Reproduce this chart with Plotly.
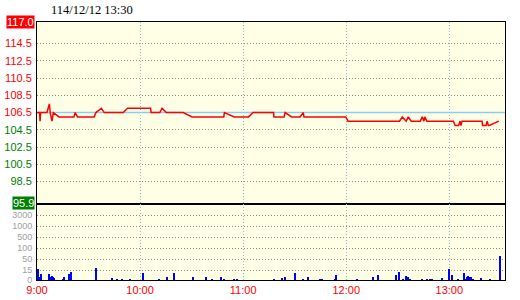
import numpy as np
import plotly.graph_objects as go
from plotly.subplots import make_subplots

# ---- data ----
title_text = "114/12/12 13:30"
prev_close = 106.5
limit_up = 117.0
limit_down = 95.9

# minutes after 09:00
price_minutes = [0, 1.5, 1.8, 2.1, 5.8, 6.3, 7.2, 7.7, 8.7, 9.5, 12.8, 21.5, 22.2, 23.6, 33.3,
                 34.3, 37.5, 39.1, 50.2, 52.7, 66.1, 66.4, 71.5, 72.8, 75.2, 85.1, 90.3, 108.7,
                 109.1, 114.8, 123.1, 125.8, 137.7, 137.9, 143.8, 144.4, 148.2, 153.1, 155.0,
                 155.4, 179.7, 181.0, 211.0, 212.6, 214.9, 216.1, 217.8, 223.1, 224.2, 225.2,
                 225.7, 226.9, 242.4, 243.4, 245.4, 246.2, 246.8, 247.4, 259.1, 259.3, 261.4,
                 262.0, 262.7, 263.2, 268.8]
prices = [106.5, 106.5, 105.5, 106.5, 106.5, 107.0, 107.5, 106.5, 105.5, 106.5, 106.0, 106.0,
          106.5, 106.0, 106.0, 106.5, 107.0, 106.5, 106.5, 107.0, 107.0, 106.5, 106.5, 107.0,
          106.5, 106.5, 106.0, 106.0, 106.5, 106.0, 106.0, 106.5, 106.5, 106.0, 106.0, 106.5,
          106.0, 106.0, 106.5, 106.0, 106.0, 105.5, 105.5, 106.0, 105.5, 106.0, 105.5, 105.5,
          106.0, 105.5, 106.0, 105.5, 105.5, 105.0, 105.0, 105.5, 105.0, 105.5, 105.5, 105.0,
          105.0, 105.5, 105.0, 105.0, 105.5]

vol_minutes = [0.4, 1.7, 2.5, 7.2, 7.6, 8.9, 9.5, 10.1, 15.3, 15.9, 18.8, 19.9, 34.5, 43.8, 46.7,
               49.7, 54.2, 61.8, 71.1, 75.8, 79.8, 90.9, 98.4, 101.9, 107.2, 108.9, 114.7, 116.5,
               138.0, 142.6, 144.4, 150.2, 154.8, 157.7, 164.7, 165.9, 173.4, 174.0, 186.2,
               195.5, 198.4, 208.9, 210.6, 212.9, 214.7, 215.9, 217.0, 224.0, 226.9, 228.7,
               229.8, 235.6, 239.7, 241.5, 244.9, 248.4, 249.6, 250.2, 250.8, 251.4, 252.5,
               253.7, 258.3, 263.5, 269.4]
volumes = [18, 4, 10, 10, 4, 6, 4, 3, 2, 4, 10, 12, 21, 3, 2, 2, 2, 11, 2, 4, 11, 5, 4, 2, 4, 2,
           2, 2, 2, 3, 5, 11, 2, 4, 2, 2, 2, 8, 2, 5, 8, 8, 12, 2, 6, 5, 2, 2, 2, 2, 2, 3, 20, 8,
           2, 11, 2, 4, 6, 5, 5, 2, 3, 2, 63]

price_ticks = [98.5, 100.5, 102.5, 104.5, 106.5, 108.5, 110.5, 112.5, 114.5]
vol_tick_values = [0, 15, 50, 100, 500, 1000, 3000]
vol_tick_pos = [0, 0.88, 1.88, 2.88, 3.88, 4.88, 5.88]
time_ticks = [0, 60, 120, 180, 240]
time_labels = ["9:00", "10:00", "11:00", "12:00", "13:00"]

# ---- figure ----
RED = "#ff0000"
GREEN = "#008000"
BG = "#ffffe6"
GRID = "#909090"
VGRID = "#88bbdd"
DOT = "1px,2px"

vol_disp = np.interp(volumes, vol_tick_values, vol_tick_pos)

fig = make_subplots(rows=2, cols=1, shared_xaxes=True, vertical_spacing=0,
                    row_heights=[0.7054, 0.2946])

fig.add_trace(go.Scatter(x=[0, 272.4], y=[prev_close, prev_close], mode="lines",
                         line=dict(color="#87cdf5", width=1.5), hoverinfo="skip"), row=1, col=1)
fig.add_trace(go.Scatter(x=price_minutes, y=prices, mode="lines",
                         line=dict(color=RED, width=1.5)), row=1, col=1)
fig.add_trace(go.Bar(x=vol_minutes, y=vol_disp, width=0.6,
                     marker=dict(color="#0000ff", line=dict(width=0))), row=2, col=1)

ticktext_price = [f'<span style="color:{RED if v >= prev_close else GREEN}">{v:.1f}</span>'
                  for v in price_ticks]

axis_common = dict(showline=True, linecolor="black", linewidth=1, mirror=True,
                   ticks="", zeroline=False, automargin=False)

fig.update_xaxes(range=[0, 272.4], tickvals=time_ticks, ticktext=time_labels,
                 showgrid=True, gridcolor=VGRID, griddash=DOT, gridwidth=1,
                 tickfont=dict(color=RED, size=11, family="Liberation Sans"),
                 **axis_common)
fig.update_xaxes(showticklabels=False, row=1, col=1)
fig.update_yaxes(range=[limit_down, limit_up], tickvals=price_ticks, ticktext=ticktext_price,
                 showgrid=True, gridcolor=GRID, griddash=DOT, gridwidth=1,
                 tickfont=dict(size=11, family="Liberation Sans"), ticklabelstandoff=2,
                 row=1, col=1, **axis_common)
fig.update_yaxes(range=[0, 6.91], tickvals=vol_tick_pos, ticktext=[str(v) for v in vol_tick_values],
                 showgrid=True, gridcolor=GRID, griddash=DOT, gridwidth=1,
                 tickfont=dict(size=9, color="#a0a0a0", family="Liberation Sans"),
                 ticklabelstandoff=2, row=2, col=1, **axis_common)

fig.add_annotation(xref="paper", yref="y", x=0, y=limit_up, text=f"{limit_up:.1f}",
                   xanchor="right", yanchor="middle", xshift=-2, showarrow=False,
                   bgcolor=RED, borderpad=0,
                   font=dict(color="white", size=11, family="Liberation Sans"))
fig.add_annotation(xref="paper", yref="y", x=0, y=limit_down, text=f"{limit_down:.1f}",
                   xanchor="right", yanchor="middle", xshift=-2, yshift=1, showarrow=False,
                   bgcolor=GREEN, borderpad=0,
                   font=dict(color="white", size=11, family="Liberation Sans"))
fig.add_annotation(xref="paper", yref="paper", x=0.0256, y=1, yanchor="bottom", xanchor="left",
                   yshift=3, text=title_text, showarrow=False,
                   font=dict(color="black", size=12.5, family="Liberation Serif"))

fig.update_layout(width=520, height=300, margin=dict(l=37, r=14.5, t=22, b=20),
                  paper_bgcolor="white", plot_bgcolor=BG, showlegend=False,
                  bargap=0)

fig.write_html("out.html")
